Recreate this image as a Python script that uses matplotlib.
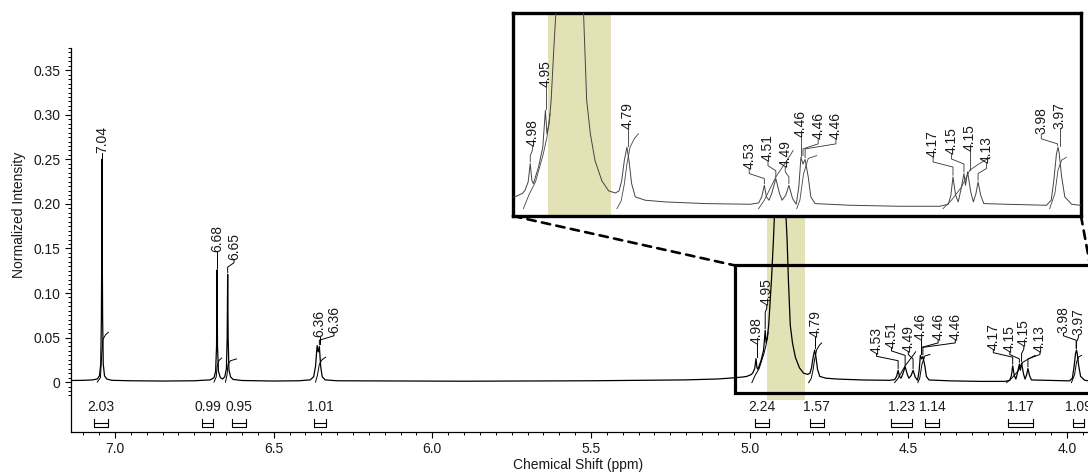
import matplotlib
matplotlib.use("Agg")
import matplotlib.pyplot as plt
from matplotlib.patches import Rectangle, ConnectionPatch
from matplotlib.ticker import FixedLocator, FixedFormatter
import numpy as np

plt.rcParams['font.family'] = ['Liberation Sans', 'DejaVu Sans']
plt.rcParams['font.size'] = 10

# spectrum (chemical shift in ppm, normalized intensity)
spec_ppm = [7.139, 7.10, 7.07, 7.056, 7.049, 7.045, 7.043, 7.042, 7.041, 7.040, 7.039, 7.037,
            7.033, 7.026, 7.01, 6.95, 6.85, 6.75, 6.70, 6.688, 6.683, 6.680, 6.6785, 6.677,
            6.674, 6.668, 6.661, 6.654, 6.649, 6.6465, 6.645, 6.6435, 6.641, 6.636, 6.628,
            6.60, 6.50, 6.42, 6.385, 6.374, 6.368, 6.363, 6.3595, 6.356, 6.352, 6.347, 6.338,
            6.30, 6.10, 5.90, 5.70, 5.50, 5.35, 5.20, 5.10, 5.05, 5.02, 5.009, 4.995, 4.990,
            4.984, 4.980, 4.977, 4.974, 4.964, 4.956, 4.951, 4.948, 4.944, 4.940, 4.935,
            4.931, 4.925, 4.918, 4.905, 4.890, 4.882, 4.878, 4.872, 4.865, 4.856, 4.843,
            4.830, 4.817, 4.810, 4.805, 4.800, 4.795, 4.791, 4.786, 4.779, 4.760, 4.722,
            4.645, 4.559, 4.543, 4.537, 4.532, 4.528, 4.523, 4.518, 4.510, 4.503, 4.498,
            4.491, 4.485, 4.478, 4.471, 4.466, 4.462, 4.458, 4.454, 4.448, 4.443, 4.435,
            4.368, 4.273, 4.196, 4.180, 4.175, 4.171, 4.166, 4.161, 4.156, 4.150, 4.147,
            4.143, 4.137, 4.132, 4.127, 4.123, 4.118, 4.112, 4.069, 3.992, 3.983, 3.978,
            3.973, 3.970, 3.968, 3.963, 3.957, 3.944, 3.928, 3.90]
spec_int = [0.0018, 0.002, 0.0025, 0.0035, 0.007, 0.02, 0.07, 0.137, 0.250, 0.137, 0.07, 0.02,
            0.007, 0.0035, 0.002, 0.0015, 0.0012, 0.0015, 0.0025, 0.005, 0.012, 0.04, 0.126, 0.04,
            0.012, 0.005, 0.0035, 0.006, 0.015, 0.05, 0.121, 0.05, 0.014, 0.006, 0.003,
            0.0018, 0.0012, 0.0015, 0.0025, 0.006, 0.018, 0.041, 0.034, 0.040, 0.018, 0.006, 0.0025,
            0.0015, 0.0012, 0.001, 0.0012, 0.0015, 0.002, 0.0025, 0.0035, 0.0048, 0.0058, 0.0064,
            0.0085, 0.0103, 0.0153, 0.0263, 0.0163, 0.0143, 0.0243, 0.036, 0.058, 0.044, 0.050,
            0.064, 0.094, 0.116, 0.16, 0.22, 0.34, 0.22, 0.16, 0.116, 0.064, 0.044, 0.028, 0.016,
            0.010, 0.0087, 0.010, 0.016, 0.028, 0.036, 0.028, 0.0143, 0.0064, 0.0044, 0.0034,
            0.0024, 0.002, 0.0028, 0.0064, 0.0133, 0.0064, 0.0044, 0.0084, 0.0173, 0.0084, 0.0044,
            0.0074, 0.0133, 0.0054, 0.002, 0.0123, 0.030, 0.026, 0.0287, 0.0183, 0.0064, 0.0024,
            0.0014, 0.0008, 0.0008, 0.002, 0.0074, 0.0183, 0.0074, 0.0034, 0.0104, 0.0203, 0.0133,
            0.0213, 0.0093, 0.0034, 0.0084, 0.0153, 0.0074, 0.0024, 0.002, 0.0014, 0.0044, 0.0163,
            0.032, 0.036, 0.033, 0.0183, 0.0064, 0.002, 0.0014, 0.0014]

# integral curves (ppm, height)
integral_ppm = [[7.056, 7.046, 7.042, 7.038, 7.030, 7.021],
                [6.688, 6.681, 6.678, 6.673, 6.664],
                [6.652, 6.647, 6.644, 6.636, 6.617],
                [6.368, 6.362, 6.356, 6.348, 6.336],
                [4.993, 4.982, 4.970, 4.955, 4.948, 4.942],
                [4.814, 4.806, 4.800, 4.795, 4.789, 4.781, 4.773],
                [4.543, 4.532, 4.510, 4.489, 4.477],
                [4.470, 4.464, 4.457, 4.448, 4.432],
                [4.190, 4.174, 4.155, 4.139, 4.120, 4.100],
                [3.986, 3.976, 3.970, 3.963, 3.954]]
integral_val = [[0.0, 0.005, 0.030, 0.048, 0.053, 0.056],
                [0.0, 0.006, 0.018, 0.024, 0.027],
                [0.0, 0.008, 0.020, 0.024, 0.026],
                [0.0, 0.008, 0.020, 0.025, 0.028],
                [-0.0006, 0.008, 0.0153, 0.032, 0.042, 0.056],
                [-0.0006, 0.004, 0.014, 0.026, 0.036, 0.041, 0.044],
                [-0.0006, 0.0044, 0.0183, 0.028, 0.034],
                [-0.0006, 0.0044, 0.020, 0.0293, 0.031],
                [-0.0006, 0.0044, 0.0121, 0.0223, 0.0263, 0.030],
                [-0.0006, 0.0084, 0.0223, 0.0283, 0.030]]

# integration regions
int_start = [7.066, 6.725, 6.631, 6.373, 4.983, 4.810, 4.555, 4.447, 4.186, 3.981]
int_end = [7.022, 6.692, 6.587, 6.335, 4.939, 4.766, 4.488, 4.403, 4.107, 3.946]
int_text = ['2.03', '0.99', '0.95', '1.01', '2.24', '1.57', '1.23', '1.14', '1.17', '1.09']

# peak picks: text, peak position, peak height
pk_text = ['7.04', '6.68', '6.65', '6.36', '6.36', '4.98', '4.95', '4.79', '4.53', '4.51', '4.49',
           '4.46', '4.46', '4.46', '4.17', '4.15', '4.15', '4.13', '3.98', '3.97']
pk_x = [7.041, 6.6785, 6.645, 6.357, 6.356, 4.980, 4.951, 4.795, 4.532, 4.510, 4.485,
        4.462, 4.458, 4.454, 4.171, 4.150, 4.143, 4.123, 3.971, 3.970]
pk_y = [0.250, 0.126, 0.121, 0.041, 0.040, 0.0263, 0.058, 0.036, 0.0133, 0.0173, 0.0133,
        0.030, 0.030, 0.0287, 0.0183, 0.0203, 0.0213, 0.0153, 0.036, 0.036]
# where the labels sit in the main plot
main_lab_x = [7.041, 6.6785, 6.625, 6.355, 6.310, 4.977, 4.946, 4.793, 4.600, 4.553, 4.500,
              4.460, 4.406, 4.352, 4.232, 4.180, 4.136, 4.085, 4.011, 3.964]
main_lab_y = [0.257, 0.146, 0.137, 0.051, 0.055, 0.043, 0.086, 0.051, 0.032, 0.038, 0.034,
              0.047, 0.047, 0.047, 0.036, 0.034, 0.040, 0.034, 0.055, 0.053]
# labels inside the zoom panel (peaks 4.98 .. 3.97)
zoom_lab_x = [4.976, 4.950, 4.793, 4.561, 4.525, 4.492, 4.462, 4.429, 4.395, 4.209, 4.174,
              4.139, 4.107, 4.002, 3.967]
zoom_lab_y = [0.037, 0.0716, 0.047, 0.0233, 0.028, 0.0243, 0.042, 0.041, 0.041, 0.0302, 0.032,
              0.034, 0.0263, 0.044, 0.047]

band = (4.825, 4.946)
zoom_x = (5.047, 3.927)
zoom_y = (-0.012, 0.131)

band_col = '#e2e2b6'
txt_col = '#1a1a1a'

W, H = 1088, 473
fig = plt.figure(figsize=(W / 100, H / 100), dpi=100)
ax = fig.add_axes([71 / W, 41 / H, 1 - 71 / W, 384 / H])


def label_peaks(a, texts, xp, yp, xl, yl, gap, k1, k2, col, lw):
    for t, px, py, lx, ly in zip(texts, xp, yp, xl, yl):
        if abs(px - lx) < 0.004:
            xs, ys = [lx, lx], [py + gap, ly]
        else:
            y2 = ly - k2
            y1 = max(ly - k1, py + gap)
            xs, ys = [px, px, lx, lx], [py + gap, y1, y2, ly]
        a.plot(xs, ys, color=col, lw=lw, zorder=4)
        a.text(lx, ly, t, rotation=90, ha='center', va='bottom', fontsize=10, color=txt_col)


# main spectrum
ax.axvspan(band[0], band[1], ymin=(0.036) / 0.431, ymax=1, color=band_col, lw=0, zorder=0)
ax.plot(spec_ppm, spec_int, color='black', lw=0.9, zorder=3)
for xs, ys in zip(integral_ppm, integral_val):
    ax.plot(xs, ys, color='black', lw=0.7, zorder=3)
label_peaks(ax, pk_text, pk_x, pk_y, main_lab_x, main_lab_y, 0.002, 0.008, 0.003, 'black', 0.7)

for s, e, t in zip(int_start, int_end, int_text):
    ax.plot([s, s, e, e], [-0.041, -0.0505, -0.0505, -0.041], color='black', lw=0.8)
    ax.plot([s, e], [-0.0456, -0.0456], color='black', lw=0.8)
    ax.text((s + e) / 2, -0.028, t, ha='center', va='center', fontsize=10, color=txt_col)

ax.add_patch(Rectangle((zoom_x[1], zoom_y[0]), zoom_x[0] - zoom_x[1], zoom_y[1] - zoom_y[0],
                       fill=False, ec='black', lw=2.3, zorder=5))

ax.set_xlim(7.1387, 3.9337)
ax.set_ylim(-0.056, 0.375)
for s in ['top', 'right']:
    ax.spines[s].set_visible(False)
for s in ['left', 'bottom']:
    ax.spines[s].set_linewidth(0.9)
ax.set_xticks([7.0, 6.5, 6.0, 5.5, 5.0, 4.5, 4.0])
ax.set_xticklabels(['7.0', '6.5', '6.0', '5.5', '5.0', '4.5', '4.0'])
ax.xaxis.set_minor_locator(FixedLocator(np.round(np.arange(3.95, 7.14, 0.05), 2)))
yt = [0, 0.05, 0.10, 0.15, 0.20, 0.25, 0.30, 0.35]
ax.set_yticks(yt)
ax.set_yticklabels(['0', '0.05', '0.10', '0.15', '0.20', '0.25', '0.30', '0.35'])
ax.yaxis.set_minor_locator(FixedLocator(np.round(np.arange(-0.015, 0.376, 0.005), 3)))
ax.tick_params(axis='both', which='major', direction='out', length=4.5, width=0.8,
               labelsize=10, labelcolor=txt_col, pad=3)
ax.tick_params(axis='both', which='minor', direction='out', length=2.5, width=0.7)

fig.text(19 / W, 1 - 215 / H, 'Normalized Intensity', rotation=90, ha='center', va='center',
         fontsize=10, color=txt_col)
fig.text(578 / W, 1 - 465 / H, 'Chemical Shift (ppm)', ha='center', va='center',
         fontsize=10, color=txt_col)

# zoom panel
axin = fig.add_axes([513 / W, 1 - 216 / H, (1081 - 513) / W, (216 - 13) / H])
axin.set_facecolor('white')
axin.axvspan(band[0], band[1], color=band_col, lw=0, zorder=0)
axin.plot(spec_ppm, spec_int, color='#444444', lw=0.7, zorder=3)
for xs, ys in zip(integral_ppm[4:], integral_val[4:]):
    axin.plot(xs, ys, color='#444444', lw=0.6, zorder=3)
label_peaks(axin, pk_text[5:], pk_x[5:], pk_y[5:], zoom_lab_x, zoom_lab_y,
            0.001, 0.006, 0.003, '#333333', 0.6)
axin.set_xlim(5.013, 3.926)
axin.set_ylim(-0.005, 0.116)
axin.set_xticks([])
axin.set_yticks([])
for s in axin.spines.values():
    s.set_linewidth(2.4)
    s.set_color('black')

for ca, cb in [((0, 0), (zoom_x[0], zoom_y[1])), ((1, 0), (zoom_x[1], zoom_y[1]))]:
    con = ConnectionPatch(xyA=ca, coordsA=axin.transAxes, xyB=cb, coordsB=ax.transData,
                          color='black', lw=1.9, linestyle=(0, (3.2, 2.4)), zorder=6)
    fig.add_artist(con)

fig.savefig('out.png', dpi=100)
